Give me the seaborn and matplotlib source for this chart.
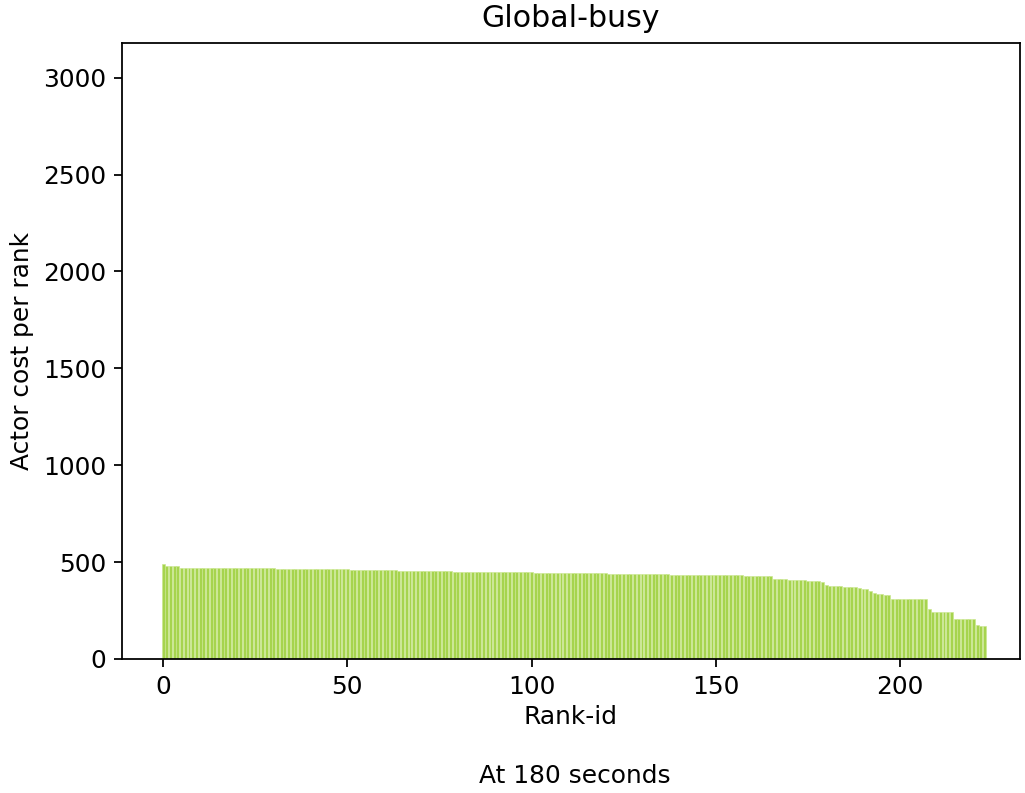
import matplotlib
matplotlib.use("Agg")
import matplotlib.pyplot as plt
import seaborn as sns
import pandas as pd

# Actor cost per rank, sorted descending, sampled at t = 180 s
actor_cost = [
    488, 481, 480, 479, 478, 472, 472, 471, 471, 471,
    471, 470, 470, 470, 470, 470, 470, 469, 469, 469,
    469, 469, 469, 468, 468, 468, 468, 468, 467, 467,
    467, 466, 466, 466, 466, 465, 465, 465, 465, 464,
    464, 464, 464, 463, 463, 463, 463, 462, 462, 462,
    462, 461, 461, 461, 460, 460, 460, 459, 459, 459,
    458, 458, 457, 457, 456, 456, 456, 455, 455, 455,
    454, 454, 454, 453, 453, 453, 452, 452, 452, 451,
    451, 451, 451, 450, 450, 450, 450, 449, 449, 449,
    449, 448, 448, 448, 448, 448, 447, 447, 447, 447,
    447, 446, 446, 446, 446, 445, 445, 445, 445, 444,
    444, 444, 444, 443, 443, 443, 443, 442, 442, 442,
    442, 441, 441, 441, 441, 440, 440, 440, 440, 439,
    439, 439, 438, 438, 438, 437, 437, 437, 436, 436,
    436, 436, 435, 435, 435, 434, 434, 434, 433, 433,
    433, 432, 432, 432, 431, 431, 431, 431, 430, 430,
    430, 430, 429, 429, 428, 428, 413, 412, 412, 411,
    410, 409, 408, 407, 406, 405, 404, 403, 401, 399,
    382, 377, 376, 375, 375, 374, 374, 373, 372, 366,
    362, 361, 352, 338, 336, 336, 330, 329, 311, 311,
    310, 310, 310, 310, 310, 310, 310, 309, 258, 242,
    242, 242, 242, 242, 241, 207, 206, 206, 206, 206,
    206, 173, 172, 172,
]
rank_ids = list(range(len(actor_cost)))

title = "Global-busy"
x_label = "Rank-id"
y_label = "Actor cost per rank"
footer = "At 180 seconds"

df = pd.DataFrame({"rank": rank_ids, "cost": actor_cost})

plt.rcParams["font.size"] = 11.2

fig = plt.figure(figsize=(1025 / 160, 793 / 160), dpi=160)
ax = fig.add_axes([0.119, 0.169, 0.876, 0.777])

sns.barplot(data=df, x="rank", y="cost", native_scale=True, width=0.8,
            color="#a6d44e", saturation=1, edgecolor="#c9e68f", linewidth=0.3,
            errorbar=None, ax=ax)

ax.set_xlim(-11.2, 232.6)
ax.set_ylim(0, 3180)
ax.set_xticks([0, 50, 100, 150, 200])
ax.set_yticks([0, 500, 1000, 1500, 2000, 2500, 3000])
ax.set_title(title, fontsize=13.5, pad=7)
ax.set_xlabel(x_label, labelpad=3)
ax.set_ylabel(y_label, labelpad=4)
for s in ax.spines.values():
    s.set_visible(True)
    s.set_color("black")

fig.text(0.561, 0.021, footer, ha="center", va="center", fontsize=11.2)

fig.savefig("out.png", dpi=160)
